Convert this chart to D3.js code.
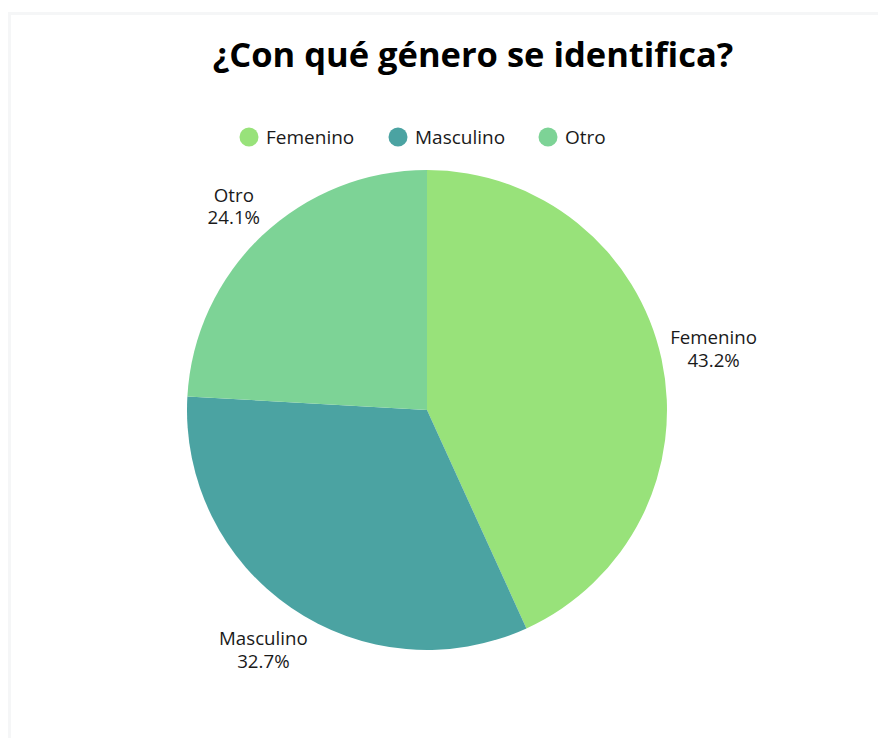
<!DOCTYPE html>
<html>
<head>
<meta charset="utf-8">
<script src="https://cdn.jsdelivr.net/npm/d3@7"></script>
<style>
  html, body { margin: 0; padding: 0; background: #ffffff; }
  svg { display: block; font-family: "Open Sans", sans-serif; }
</style>
</head>
<body>
<svg id="chart" width="878" height="738"></svg>
<script>
const categories = ["Femenino", "Masculino", "Otro"];
const percentages = [43.2, 32.7, 24.1];
const colors = ["#98e27a", "#4ba3a2", "#7dd396"];
const title = "¿Con qué género se identifica?";

const W = 878, H = 738;
const cx = 427, cy = 410, R = 240;

const svg = d3.select("#chart");

// card frame: light band along top and left edge
svg.append("rect").attr("x", 8).attr("y", 12).attr("width", W - 8).attr("height", H - 12).attr("fill", "#f5f6f7");
svg.append("rect").attr("x", 11).attr("y", 15).attr("width", W - 11).attr("height", H - 15).attr("fill", "#ffffff");

// title
svg.append("text")
  .attr("x", 473).attr("y", 67)
  .attr("text-anchor", "middle")
  .attr("font-size", 34.5).attr("font-weight", 700)
  .attr("fill", "#000")
  .text(title);

const color = d3.scaleOrdinal().domain(categories).range(colors);

// legend
const legendX = [249, 398, 548];
const legend = svg.append("g");
categories.forEach((c, i) => {
  const g = legend.append("g").attr("transform", `translate(${legendX[i]},137)`);
  g.append("circle").attr("r", 9.5).attr("fill", color(c));
  g.append("text").attr("x", 17).attr("y", 7)
    .attr("font-size", 19).attr("fill", "#1a1a1a").text(c);
});

// pie
const data = categories.map((c, i) => ({ name: c, value: percentages[i] }));
const pie = d3.pie().value(d => d.value).sort(null).startAngle(0).endAngle(2 * Math.PI);
const arcs = pie(data);
const arc = d3.arc().innerRadius(0).outerRadius(R);

const g = svg.append("g").attr("transform", `translate(${cx},${cy})`);
g.selectAll("path").data(arcs).join("path")
  .attr("d", arc)
  .attr("fill", d => color(d.data.name));

// outside labels: the label box slides out along the slice's mid direction
// until its nearest point clears the rim by a fixed gap
const lineH = 22.5;
const gap = 6;
arcs.forEach(d => {
  const mid = (d.startAngle + d.endAngle) / 2;
  const dx = Math.sin(mid), dy = -Math.cos(mid);
  const t = g.append("text").attr("font-size", 18.7).attr("fill", "#1a1a1a").attr("text-anchor", "middle");
  t.append("tspan").attr("x", 0).attr("y", 0).text(d.data.name);
  t.append("tspan").attr("x", 0).attr("dy", lineH).text(d.data.value.toFixed(1) + "%");
  const b = t.node().getBBox();
  const ox = b.x + b.width / 2, oy = b.y + b.height / 2;
  const hw = b.width / 2, hh = b.height / 2;
  let k = R;
  for (; k < R + 300; k += 0.25) {
    const bx = dx * k, by = dy * k;
    const nx = Math.max(Math.abs(bx) - hw, 0);
    const ny = Math.max(Math.abs(by) - hh, 0);
    if (Math.hypot(nx, ny) >= R + gap) break;
  }
  t.attr("transform", `translate(${dx * k - ox},${dy * k - oy})`);
});
</script>
</body>
</html>
